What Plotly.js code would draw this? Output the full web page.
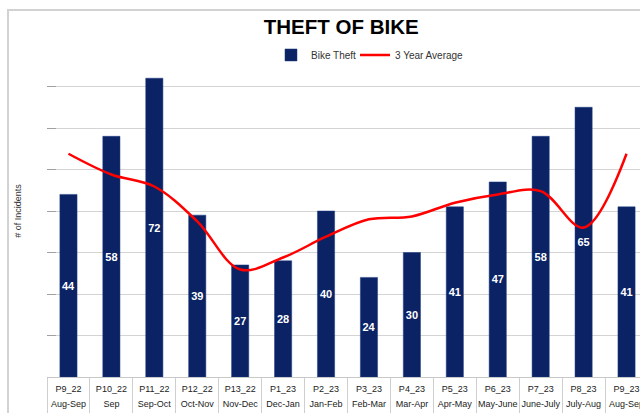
<!DOCTYPE html>
<html>
<head>
<meta charset="utf-8">
<script src="https://cdn.plot.ly/plotly-3.0.1.min.js"></script>
<style>
  html, body { margin: 0; padding: 0; overflow: hidden; background: #fff; width: 640px; height: 413px; }
  #chart { position: absolute; left: 0; top: 0; width: 660px; height: 430px; }
  #frame { position: absolute; left: 7px; top: 9px; width: 700px; height: 500px; border: 2px solid #d2d2d2; pointer-events: none; }
</style>
</head>
<body>
<div id="chart"></div>
<div id="frame"></div>
<script>
const periods = ['P9_22','P10_22','P11_22','P12_22','P13_22','P1_23','P2_23','P3_23','P4_23','P5_23','P6_23','P7_23','P8_23','P9_23'];
const months = ['Aug-Sep','Sep','Sep-Oct','Oct-Nov','Nov-Dec','Dec-Jan','Jan-Feb','Feb-Mar','Mar-Apr','Apr-May','May-June','June-July','July-Aug','Aug-Sep'];
const bikeTheft = [44,58,72,39,27,28,40,24,30,41,47,58,65,41];
const threeYearAvg = [53.8,48.8,45.9,37.5,25.9,28.8,33.8,38,38.7,42,44,44.8,36,53.8];

const tickText = periods.map((p, i) =>
  '<span style="font-size:9px">' + p + '</span><br><span style="font-size:9px">' + months[i] + '</span>');

const font = 'Liberation Sans, Arial, sans-serif';

const traces = [
  {
    type: 'bar',
    name: 'Bike Theft',
    legend: 'legend',
    x: periods,
    y: bikeTheft,
    text: bikeTheft.map(String),
    textposition: 'inside',
    insidetextanchor: 'middle',
    textangle: 0,
    constraintext: 'none',
    textfont: { family: font, size: 11, color: '#ffffff', weight: 700 },
    marker: { color: '#0b2364', line: { color: '#1d3a80', width: 0.5 } },
    hoverinfo: 'skip'
  },
  {
    type: 'scatter',
    mode: 'lines',
    name: '3 Year Average',
    legend: 'legend2',
    x: periods,
    y: threeYearAvg,
    line: { color: '#ff0000', width: 2.5, shape: 'spline', smoothing: 1 },
    hoverinfo: 'skip'
  }
];

const legendFont = { family: font, size: 10, color: '#333' };

const layout = {
  width: 660,
  height: 430,
  margin: { l: 47, r: 12, t: 45, b: 53 },
  paper_bgcolor: '#ffffff',
  plot_bgcolor: '#ffffff',
  font: { family: font, color: '#222' },
  bargap: 0.6,
  showlegend: true,
  title: {
    text: 'THEFT OF BIKE',
    font: { family: font, size: 20.5, color: '#000', weight: 700 },
    x: 0.517, xanchor: 'center',
    y: 0.937, yanchor: 'middle'
  },
  legend: {
    orientation: 'h',
    x: 0.3727, xanchor: 'left',
    y: 0.97, yanchor: 'middle',
    font: legendFont,
    itemwidth: 30,
    bgcolor: 'rgba(0,0,0,0)'
  },
  legend2: {
    orientation: 'h',
    x: 0.5125, xanchor: 'left',
    y: 0.97, yanchor: 'middle',
    font: legendFont,
    itemwidth: 30,
    bgcolor: 'rgba(0,0,0,0)'
  },
  xaxis: {
    type: 'category',
    tickvals: periods,
    ticktext: tickText,
    tickangle: 0,
    tickfont: { family: font, size: 11.5, color: '#222' },
    ticks: 'outside',
    tickson: 'boundaries',
    ticklen: 45,
    tickcolor: '#cfcfcf',
    tickwidth: 1,
    showline: true,
    linecolor: '#c8c8c8',
    linewidth: 1,
    showgrid: false,
    zeroline: false,
    automargin: false,
    ticklabelstandoff: 0
  },
  yaxis: {
    range: [0, 80],
    dtick: 10,
    showticklabels: false,
    ticks: 'inside',
    ticklen: 9,
    tickcolor: '#a0a0a0',
    showgrid: true,
    gridcolor: '#d4d4d4',
    gridwidth: 1,
    zeroline: false,
    showline: false,
    automargin: false,
    title: { text: '# of Incidents', font: { family: font, size: 9, color: '#333' }, standoff: 22 }
  }
};

Plotly.newPlot('chart', traces, layout, { staticPlot: true, displayModeBar: false });
</script>
</body>
</html>
